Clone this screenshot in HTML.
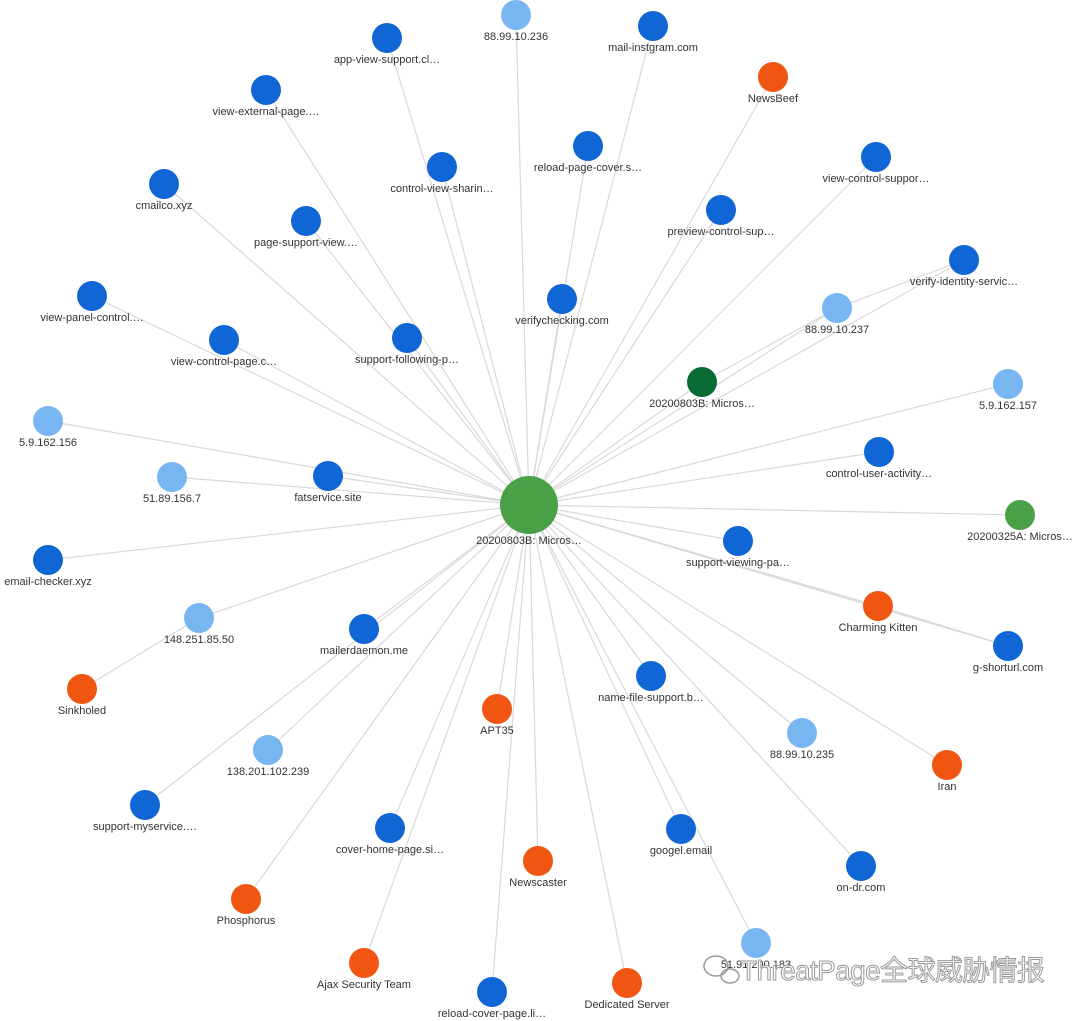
<!DOCTYPE html>
<html><head><meta charset="utf-8">
<style>
html,body{margin:0;padding:0;background:#fff;}
svg{display:block;font-family:"Liberation Sans","Noto Sans CJK SC",sans-serif;}
</style></head>
<body>
<svg id="g" width="1080" height="1021" viewBox="0 0 1080 1021">
<g id="edges"></g>
<g id="nodes"></g>
<text x="740" y="980" font-size="28" textLength="305" fill="#fff" stroke="#999" stroke-width="1">ThreatPage全球威胁情报</text>
<g fill="none" stroke="#999" stroke-width="1.5">
<ellipse cx="716" cy="966" rx="12" ry="10"/><ellipse cx="730" cy="976" rx="9" ry="7"/>
</g>
</svg>
<script>
const names=["88.99.10.236","mail-instgram.com","app-view-support.cl…","NewsBeef","view-external-page.…","reload-page-cover.s…","control-view-sharin…","view-control-suppor…","cmailco.xyz","preview-control-sup…","page-support-view.…","verify-identity-servic…","view-panel-control.…","verifychecking.com","88.99.10.237","view-control-page.c…","support-following-p…","20200803B: Micros…","5.9.162.157","5.9.162.156","control-user-activity…","51.89.156.7","fatservice.site","20200325A: Micros…","email-checker.xyz","support-viewing-pa…","Charming Kitten","148.251.85.50","mailerdaemon.me","g-shorturl.com","Sinkholed","name-file-support.b…","APT35","88.99.10.235","138.201.102.239","Iran","support-myservice.…","cover-home-page.si…","googel.email","Newscaster","on-dr.com","Phosphorus","51.91.200.183","Ajax Security Team","Dedicated Server","reload-cover-page.li…"];
const nodeX=[516,653,387,773,266,588,442,876,164,721,306,964,92,562,837,224,407,702,1008,48,879,172,328,1020,48,738,878,199,364,1008,82,651,497,802,268,947,145,390,681,538,861,246,756,364,627,492];
const nodeY=[15,26,38,77,90,146,167,157,184,210,221,260,296,299,308,340,338,382,384,421,452,477,476,515,560,541,606,618,629,646,689,676,709,733,750,765,805,828,829,861,866,899,943,963,983,992];
const types=["ip","domain","domain","actor","domain","domain","domain","domain","domain","domain","domain","domain","domain","domain","ip","domain","domain","report","ip","ip","domain","ip","domain","report2","domain","domain","actor","ip","domain","domain","actor","domain","actor","ip","ip","actor","domain","domain","domain","actor","domain","actor","ip","actor","actor","domain"];
const noCenterEdge=[30];
const extraEdges=[[30,27],[14,11],[17,14],[26,29]];
const center={x:529,y:505,r:29,label:"20200803B: Micros…"};
const colors={ip:"#78b6f2",domain:"#1166d6",actor:"#f05512",report:"#0a6a34",report2:"#4aa046"};
const NS="http://www.w3.org/2000/svg";
const E=document.getElementById('edges'),N=document.getElementById('nodes');
function line(x1,y1,x2,y2){
  const l=document.createElementNS(NS,'line');
  l.setAttribute('x1',x1);l.setAttribute('y1',y1);l.setAttribute('x2',x2);l.setAttribute('y2',y2);
  l.setAttribute('stroke','#d8d8d8');l.setAttribute('stroke-width','1.2');
  
  
  E.appendChild(l);
}
names.forEach((n,i)=>{ if(noCenterEdge.indexOf(i)<0) line(center.x,center.y,nodeX[i],nodeY[i]); });
extraEdges.forEach(([a,b])=>line(nodeX[a],nodeY[a],nodeX[b],nodeY[b]));
function node(x,y,r,fill,label){
  const g=document.createElementNS(NS,'g');
  
  
  const c=document.createElementNS(NS,'circle');
  c.setAttribute('cx',x);c.setAttribute('cy',y);c.setAttribute('r',r);c.setAttribute('fill',fill);
  g.appendChild(c);
  const t=document.createElementNS(NS,'text');
  t.setAttribute('x',x);t.setAttribute('y',y+r+10);t.setAttribute('text-anchor','middle');
  t.setAttribute('font-size','11');t.setAttribute('fill','#333');
  t.textContent=label;
  g.appendChild(t);
  N.appendChild(g);
}
names.forEach((n,i)=>node(nodeX[i],nodeY[i],15,colors[types[i]],n));
node(center.x,center.y,center.r,"#4aa046",center.label);
</script>
</body></html>
